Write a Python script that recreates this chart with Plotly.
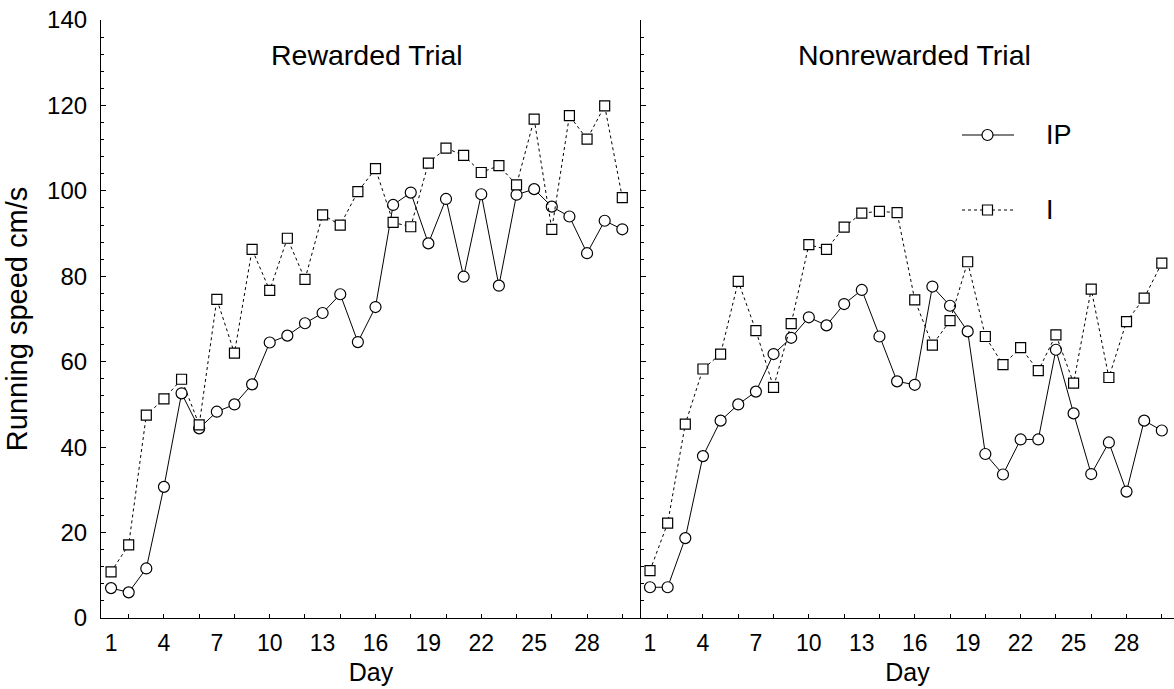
import plotly.graph_objects as go

days = list(range(1, 31))

rew_ip = [7.0, 6.0, 11.6, 30.7, 52.6, 44.4, 48.3, 50.0, 54.7, 64.5,
          66.1, 69.0, 71.4, 75.8, 64.6, 72.8, 96.7, 99.6, 87.7, 98.1,
          79.9, 99.2, 77.8, 99.1, 100.4, 96.3, 94.0, 85.4, 93.0, 91.0]
rew_i = [10.8, 17.1, 47.5, 51.3, 55.9, 45.2, 74.6, 62.0, 86.3, 76.7,
         88.9, 79.3, 94.4, 92.0, 99.8, 105.2, 92.6, 91.6, 106.5, 110.0,
         108.3, 104.3, 105.9, 101.4, 116.8, 91.0, 117.6, 112.1, 119.9, 98.4]
non_ip = [7.2, 7.2, 18.7, 37.9, 46.2, 50.0, 53.0, 61.8, 65.6, 70.4,
          68.5, 73.5, 76.8, 65.9, 55.4, 54.6, 77.6, 73.1, 67.1, 38.4,
          33.6, 41.8, 41.8, 62.8, 47.9, 33.7, 41.1, 29.6, 46.2, 43.9]
non_i = [11.1, 22.2, 45.4, 58.3, 61.8, 78.8, 67.3, 54.0, 68.9, 87.4,
         86.3, 91.5, 94.8, 95.2, 94.9, 74.5, 63.9, 69.6, 83.4, 65.9,
         59.3, 63.3, 57.9, 66.3, 55.0, 77.0, 56.3, 69.4, 74.9, 83.1]

x_tick_vals = [1, 4, 7, 10, 13, 16, 19, 22, 25, 28]
x_tick_text = ["1", "4", "7", "10", "13", "16", "19", "22", "25", "28"]
y_tick_vals = [0, 20, 40, 60, 80, 100, 120, 140]
panel_titles = ["Rewarded Trial", "Nonrewarded Trial"]
series_names = ["IP", "I"]

FONT = "Liberation Sans, Arial, sans-serif"

# plot-area geometry (px) used for converting legend placement to paper units
L, R, T, B, W, H = 101, 0, 20, 71, 1174, 689
PW, PH = W - L - R, H - T - B


def px(xp):
    return (xp - L) / PW


def py(yp):
    return (H - B - yp) / PH


fig = go.Figure()


def add_pair(ip, i_vals, xa, ya):
    fig.add_trace(go.Scatter(
        x=days, y=ip, xaxis=xa, yaxis=ya, mode="lines+markers",
        name=series_names[0], showlegend=False,
        line=dict(color="black", width=1),
        marker=dict(symbol="circle", size=11, color="white",
                    line=dict(color="black", width=1.2)),
    ))
    fig.add_trace(go.Scatter(
        x=days, y=i_vals, xaxis=xa, yaxis=ya, mode="lines+markers",
        name=series_names[1], showlegend=False,
        line=dict(color="black", width=1, dash="dot"),
        marker=dict(symbol="square", size=10, color="white",
                    line=dict(color="black", width=1.2)),
    ))


add_pair(rew_ip, rew_i, "x", "y")
add_pair(non_ip, non_i, "x2", "y2")

split = 540 / PW

xcommon = dict(
    tickmode="array", tickvals=x_tick_vals, ticktext=x_tick_text,
    ticks="", showgrid=False, zeroline=False, showline=True,
    linecolor="black", linewidth=1.2,
    tickfont=dict(family=FONT, size=23, color="black"),
    ticklabelstandoff=4,
    title=dict(text="Day", font=dict(family=FONT, size=25, color="black"), standoff=8),
    minor=dict(tickmode="array", tickvals=list(range(2, 31, 2)), ticks="inside",
               ticklen=4, tickcolor="black", tickwidth=1),
)

ycommon = dict(
    range=[0, 140], tickmode="array", tickvals=y_tick_vals,
    ticks="inside", ticklen=5, tickcolor="black", tickwidth=1,
    showgrid=False, zeroline=False, showline=True,
    linecolor="black", linewidth=1.2,
    minor=dict(dtick=4, tick0=0, ticks="inside", ticklen=3,
               tickcolor="black", tickwidth=1),
)

fig.update_layout(
    width=W, height=H,
    margin=dict(l=L, r=R, t=T, b=B),
    paper_bgcolor="white", plot_bgcolor="white",
    font=dict(family=FONT, color="black"),
    xaxis=dict(domain=[0, split], range=[0.43, 31.06], anchor="y", **xcommon),
    xaxis2=dict(domain=[split, 1], range=[0.49, 30.69], anchor="y2", **xcommon),
    yaxis=dict(anchor="x", showticklabels=True,
               tickfont=dict(family=FONT, size=24, color="black"),
               ticklabelstandoff=8,
               title=dict(text="Running speed cm/s",
                          font=dict(family=FONT, size=29, color="black"),
                          standoff=10),
               **ycommon),
    yaxis2=dict(anchor="x2", matches="y", showticklabels=False, **ycommon),
    showlegend=False,
)

# panel titles
for title, xr, xc in zip(panel_titles, ["x domain", "x2 domain"], [0.4935, 0.514]):
    fig.add_annotation(text=title, xref=xr, yref="paper", x=xc, y=py(55),
                       showarrow=False, xanchor="center", yanchor="middle",
                       font=dict(family=FONT, size=28.5, color="black"))

# hand-drawn legend (line sample + marker + label)
leg_rows = [(series_names[0], 135, "solid", "circle"),
            (series_names[1], 210, "dot", "square")]
for name, yy, dash, sym in leg_rows:
    fig.add_shape(type="line", xref="paper", yref="paper",
                  x0=px(962), x1=px(1014), y0=py(yy), y1=py(yy),
                  line=dict(color="black", width=1, dash=dash))
    if sym == "circle":
        fig.add_shape(type="circle", xref="paper", yref="paper",
                      x0=px(982), x1=px(993), y0=py(yy - 5.5), y1=py(yy + 5.5),
                      fillcolor="white", line=dict(color="black", width=1.2))
    else:
        fig.add_shape(type="rect", xref="paper", yref="paper",
                      x0=px(982.5), x1=px(992.5), y0=py(yy - 5), y1=py(yy + 5),
                      fillcolor="white", line=dict(color="black", width=1.2))
    fig.add_annotation(text=name, xref="paper", yref="paper", x=px(1044), y=py(yy),
                       showarrow=False, xanchor="left", yanchor="middle",
                       font=dict(family=FONT, size=27, color="black"))

fig.write_html("out.html")
